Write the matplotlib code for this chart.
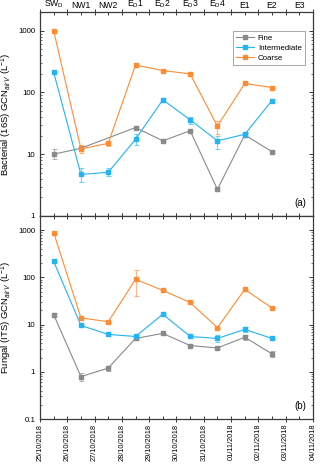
import numpy as np
import matplotlib
matplotlib.use("Agg")
import matplotlib.pyplot as plt
import matplotlib.dates as mdates
from matplotlib.ticker import FixedLocator, FixedFormatter, LogLocator, NullFormatter
from datetime import datetime, timedelta

plt.rcParams['font.family'] = ['Liberation Sans', 'DejaVu Sans']
plt.rcParams['mathtext.fontset'] = 'custom'
plt.rcParams['mathtext.rm'] = 'Liberation Sans'
plt.rcParams['mathtext.it'] = 'Liberation Sans:italic'
plt.rcParams['mathtext.bf'] = 'Liberation Sans:bold'

SITES = ['SW$_\\mathrm{D}$', 'NW1', 'NW2', 'E$_\\mathrm{D}$1', 'E$_\\mathrm{D}$2',
         'E$_\\mathrm{D}$3', 'E$_\\mathrm{D}$4', 'E1', 'E2', 'E3']
SIZES = ['Fine', 'Intermediate', 'Coarse']
COLORS = ['#8a8a8a', '#22b4f4', '#ff8c33']
nan = np.nan

# bacterial (16S), one value per sample day (25/10 .. 02/11)
bac = {
    'Fine':         [10, 12.5, nan, 27, 16.5, 24, 2.7, 20.5, 11],
    'Intermediate': [212, 4.7, 5.1, 17.5, 76, 36, 16.5, 21, 74],
    'Coarse':       [1000, 12.2, 15, 278, 226, 200, 28.5, 140, 120],
}
bac_lo = {
    'Fine':         [1.6, 0.8, 0, 1.8, 0.6, 0.8, 0.2, 1.2, 0.4],
    'Intermediate': [0, 1.2, 0.7, 3.5, 4, 5, 4.5, 2, 4],
    'Coarse':       [0, 1.7, 1.4, 0, 0, 0, 7.5, 0, 0],
}
bac_hi = {
    'Fine':         [2.0, 0.8, 0, 1.8, 0.6, 0.8, 0.2, 1.2, 0.4],
    'Intermediate': [0, 1.3, 0.8, 3.5, 4, 4, 3.5, 2, 5],
    'Coarse':       [0, 1.8, 1.2, 0, 0, 0, 6.5, 0, 0],
}

# fungal (ITS)
fun = {
    'Fine':         [16.3, 0.79, 1.2, 5.1, 6.5, 3.6, 3.2, 5.4, 2.4],
    'Intermediate': [218, 9.6, 6.2, 5.6, 16.6, 5.6, 5.1, 7.9, 5.1],
    'Coarse':       [890, 13.9, 11.5, 91, 53, 29.4, 8.6, 55.6, 22.5],
}
fun_lo = {
    'Fine':         [1.5, 0.14, 0.15, 0.4, 0.3, 0.3, 0.2, 0.7, 0.3],
    'Intermediate': [10, 0.8, 0.4, 0.5, 0.8, 0.3, 0.8, 1.0, 0.2],
    'Coarse':       [0, 0, 0, 50, 0, 0, 0, 0, 0],
}
fun_hi = {
    'Fine':         [1.5, 0.16, 0.15, 0.4, 0.3, 0.3, 0.2, 0.7, 0.3],
    'Intermediate': [10, 0.8, 0.4, 0.5, 0.8, 0.3, 0.8, 1.0, 0.2],
    'Coarse':       [0, 0, 0, 54, 0, 0, 0, 0, 0],
}

start = datetime(2018, 10, 25)
days = [start + timedelta(days=i) for i in range(11)]
samples = [d + timedelta(hours=12) for d in days[:9]]

xs = mdates.date2num(samples)
xdays = mdates.date2num(days)
xnoon = mdates.date2num([d + timedelta(hours=12) for d in days[:10]])

fig = plt.figure(figsize=(3.2, 4.65), dpi=100)
ax1 = fig.add_axes([0.125, 0.5355, 0.853, 0.4385])
ax2 = fig.add_axes([0.125, 0.0989, 0.853, 0.4366])

SPINE = '#3a3a3a'


def draw(ax, vals, lo, hi):
    for name, c in zip(SIZES, COLORS):
        y = np.array(vals[name], float)
        m = np.isfinite(y)
        yerr = np.array([lo[name], hi[name]], float)
        ax.errorbar(xs[m], y[m], yerr=yerr[:, m], fmt='none', ecolor=c,
                    alpha=0.6, elinewidth=0.8, capsize=1.8, capthick=0.8)
        ax.plot(xs[m], y[m], '-s', color=c, lw=0.8, ms=2.6, label=name)
    ax.set_yscale('log')
    ax.set_xlim(xdays[0], xdays[-1])
    ax.xaxis.set_major_locator(FixedLocator(xdays))
    ax.xaxis.set_minor_locator(FixedLocator(xnoon))
    ax.yaxis.set_minor_locator(LogLocator(base=10, subs=np.arange(2, 10)))
    ax.yaxis.set_minor_formatter(NullFormatter())
    ax.tick_params(axis='both', which='both', direction='in', colors=SPINE,
                   labelcolor='black', labelsize=5.7, width=0.7,
                   top=True, right=True)
    ax.tick_params(axis='y', which='major', length=3)
    ax.tick_params(axis='y', which='minor', length=1.5, width=0.5)
    ax.tick_params(axis='x', which='major', length=4, direction='inout')
    ax.tick_params(axis='x', which='minor', length=2)
    for s in ax.spines.values():
        s.set_color(SPINE)
        s.set_linewidth(0.9)


draw(ax1, bac, bac_lo, bac_hi)
draw(ax2, fun, fun_lo, fun_hi)

ax1.set_ylim(1, 2000)
ax1.yaxis.set_major_locator(FixedLocator([1, 10, 100, 1000]))
ax1.yaxis.set_major_formatter(FixedFormatter(['1', '10', '100', '1000']))
ax1.tick_params(axis='x', which='both', labelbottom=False, labeltop=True)
ax1.xaxis.set_major_formatter(NullFormatter())
ax1.xaxis.set_minor_formatter(FixedFormatter(SITES))
ax1.tick_params(axis='x', which='minor', labelsize=6.2, pad=1.5)

ax2.set_ylim(0.1, 2000)
ax2.yaxis.set_major_locator(FixedLocator([0.1, 1, 10, 100, 1000]))
ax2.yaxis.set_major_formatter(FixedFormatter(['0.1', '1', '10', '100', '1000']))
ax2.xaxis.set_major_formatter(mdates.DateFormatter('%d/%m/%Y'))
ax2.xaxis.set_minor_formatter(NullFormatter())
ax2.tick_params(axis='x', which='major', labelsize=5.3, pad=1.5)
for lab in ax2.get_xticklabels():
    lab.set_rotation(90)

ax1.set_ylabel('Bacterial (16S) GCN$_{\\mathit{air\\,V}}$ (L$^{-1}$)', fontsize=6.8, labelpad=3)
ax2.set_ylabel('Fungal (ITS) GCN$_{\\mathit{air\\,V}}$ (L$^{-1}$)', fontsize=6.8, labelpad=3)
ax1.text(0.975, 0.04, '(a)', transform=ax1.transAxes, ha='right', va='bottom', fontsize=7)
ax2.text(0.975, 0.04, '(b)', transform=ax2.transAxes, ha='right', va='bottom', fontsize=7)

leg = ax1.legend(loc='upper right', bbox_to_anchor=(0.985, 0.925), fontsize=5.7,
                 fancybox=False, edgecolor='#999999', framealpha=1,
                 handlelength=2.2, borderpad=0.4, labelspacing=0.3,
                 handletextpad=0.5)
leg.get_frame().set_linewidth(0.6)

fig.savefig('out.png', dpi=100)
